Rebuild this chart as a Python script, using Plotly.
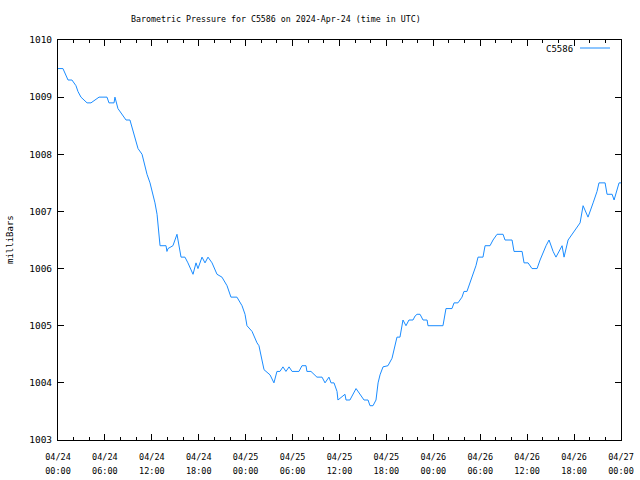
import plotly.graph_objects as go

times = [
    "2024-04-24 00:00", "2024-04-24 00:38", "2024-04-24 01:17", "2024-04-24 01:47",
    "2024-04-24 02:18", "2024-04-24 02:33", "2024-04-24 02:56", "2024-04-24 03:43",
    "2024-04-24 04:13", "2024-04-24 04:44", "2024-04-24 05:15", "2024-04-24 06:16",
    "2024-04-24 06:31", "2024-04-24 07:10", "2024-04-24 07:17", "2024-04-24 07:40",
    "2024-04-24 08:11", "2024-04-24 08:42", "2024-04-24 09:12", "2024-04-24 09:36",
    "2024-04-24 09:51", "2024-04-24 10:14", "2024-04-24 10:45", "2024-04-24 11:00",
    "2024-04-24 11:23", "2024-04-24 11:46", "2024-04-24 12:09", "2024-04-24 12:24",
    "2024-04-24 12:40", "2024-04-24 12:47", "2024-04-24 13:03", "2024-04-24 13:49",
    "2024-04-24 13:56", "2024-04-24 14:04", "2024-04-24 14:42", "2024-04-24 15:13",
    "2024-04-24 15:36", "2024-04-24 15:44", "2024-04-24 16:14", "2024-04-24 16:37",
    "2024-04-24 17:16", "2024-04-24 17:39", "2024-04-24 17:54", "2024-04-24 18:25",
    "2024-04-24 18:48", "2024-04-24 19:11", "2024-04-24 19:42", "2024-04-24 20:20",
    "2024-04-24 20:58", "2024-04-24 21:37", "2024-04-24 22:07", "2024-04-24 22:53",
    "2024-04-24 23:32", "2024-04-24 23:55", "2024-04-25 00:10", "2024-04-25 00:49",
    "2024-04-25 01:27", "2024-04-25 01:42", "2024-04-25 02:05", "2024-04-25 02:21",
    "2024-04-25 03:07", "2024-04-25 03:37", "2024-04-25 04:00", "2024-04-25 04:23",
    "2024-04-25 04:46", "2024-04-25 05:09", "2024-04-25 05:33", "2024-04-25 05:56",
    "2024-04-25 06:49", "2024-04-25 07:12", "2024-04-25 07:43", "2024-04-25 07:50",
    "2024-04-25 08:21", "2024-04-25 09:07", "2024-04-25 09:46", "2024-04-25 10:09",
    "2024-04-25 10:39", "2024-04-25 10:55", "2024-04-25 11:18", "2024-04-25 11:41",
    "2024-04-25 11:48", "2024-04-25 12:19", "2024-04-25 12:42", "2024-04-25 12:50",
    "2024-04-25 13:20", "2024-04-25 14:07", "2024-04-25 14:37", "2024-04-25 15:08",
    "2024-04-25 15:39", "2024-04-25 15:54", "2024-04-25 16:17", "2024-04-25 16:40",
    "2024-04-25 16:56", "2024-04-25 17:11", "2024-04-25 17:34", "2024-04-25 18:12",
    "2024-04-25 18:43", "2024-04-25 18:58", "2024-04-25 19:21", "2024-04-25 19:44",
    "2024-04-25 20:07", "2024-04-25 20:30", "2024-04-25 20:53", "2024-04-25 21:24",
    "2024-04-25 21:40", "2024-04-25 21:55", "2024-04-25 22:18", "2024-04-25 22:41",
    "2024-04-25 23:12", "2024-04-25 23:19", "2024-04-26 01:14", "2024-04-26 01:37",
    "2024-04-26 02:23", "2024-04-26 02:39", "2024-04-26 03:09", "2024-04-26 03:40",
    "2024-04-26 03:55", "2024-04-26 04:18", "2024-04-26 04:41", "2024-04-26 05:04",
    "2024-04-26 05:27", "2024-04-26 05:43", "2024-04-26 06:21", "2024-04-26 06:37",
    "2024-04-26 07:15", "2024-04-26 07:38", "2024-04-26 08:09", "2024-04-26 08:55",
    "2024-04-26 09:10", "2024-04-26 10:04", "2024-04-26 10:19", "2024-04-26 11:21",
    "2024-04-26 11:36", "2024-04-26 12:07", "2024-04-26 12:37", "2024-04-26 13:16",
    "2024-04-26 13:39", "2024-04-26 14:25", "2024-04-26 14:48", "2024-04-26 15:19",
    "2024-04-26 15:41", "2024-04-26 16:28", "2024-04-26 16:43", "2024-04-26 17:14",
    "2024-04-26 17:44", "2024-04-26 18:15", "2024-04-26 18:46", "2024-04-26 19:09",
    "2024-04-26 19:25", "2024-04-26 19:47", "2024-04-26 20:26", "2024-04-26 20:56",
    "2024-04-26 21:11", "2024-04-26 21:58", "2024-04-26 22:13", "2024-04-26 22:52",
    "2024-04-26 23:07", "2024-04-26 23:45", "2024-04-27 00:00",
]

pressure = [
    1009.5, 1009.5, 1009.3, 1009.3,
    1009.2, 1009.1, 1009.0, 1008.9,
    1008.9, 1008.95, 1009.0, 1009.0,
    1008.9, 1008.9, 1009.0, 1008.8,
    1008.7, 1008.6, 1008.6, 1008.4,
    1008.25, 1008.1, 1008.0, 1007.85,
    1007.65, 1007.5, 1007.3, 1007.15,
    1006.95, 1006.75, 1006.4, 1006.4,
    1006.3, 1006.35, 1006.4, 1006.6,
    1006.35, 1006.2, 1006.2, 1006.1,
    1005.9, 1006.1, 1006.0, 1006.2,
    1006.1, 1006.2, 1006.1, 1005.9,
    1005.85, 1005.7, 1005.5, 1005.5,
    1005.35, 1005.2, 1005.0, 1004.9,
    1004.7, 1004.65, 1004.4, 1004.23,
    1004.14, 1004.0, 1004.2, 1004.2,
    1004.28, 1004.2, 1004.28, 1004.2,
    1004.2, 1004.3, 1004.3, 1004.2,
    1004.2, 1004.1, 1004.1, 1004.0,
    1004.1, 1004.0, 1004.0, 1003.85,
    1003.7, 1003.75, 1003.8, 1003.7,
    1003.7, 1003.9, 1003.8, 1003.7,
    1003.7, 1003.6, 1003.6, 1003.7,
    1004.0, 1004.14, 1004.28, 1004.3,
    1004.43, 1004.6, 1004.8, 1004.8,
    1005.1, 1005.0, 1005.1, 1005.1,
    1005.17, 1005.2, 1005.2, 1005.1,
    1005.1, 1005.0, 1005.0, 1005.3,
    1005.3, 1005.4, 1005.4, 1005.5,
    1005.6, 1005.6, 1005.75, 1005.9,
    1006.05, 1006.2, 1006.2, 1006.4,
    1006.4, 1006.5, 1006.6, 1006.6,
    1006.5, 1006.5, 1006.3, 1006.3,
    1006.1, 1006.1, 1006.0, 1006.0,
    1006.15, 1006.4, 1006.5, 1006.3,
    1006.2, 1006.4, 1006.2, 1006.5,
    1006.6, 1006.7, 1006.8, 1007.1,
    1007.0, 1006.9, 1007.15, 1007.35,
    1007.5, 1007.5, 1007.3, 1007.3,
    1007.2, 1007.5, 1007.5,
]

series_name = "C5586"
title_text = "Barometric Pressure for C5586 on 2024-Apr-24 (time in UTC)"
y_label = "milliBars"
line_color = "#1a8cff"
FONT = "DejaVu Sans Mono"
x_range = ["2024-04-24 00:00", "2024-04-27 00:00"]
SIX_H = 6 * 3600 * 1000
TWO_H = 2 * 3600 * 1000

fig = go.Figure()
fig.add_trace(go.Scatter(x=times, y=pressure, mode="lines", name=series_name,
                         line=dict(color=line_color, width=1), showlegend=False))
# invisible copy on the second x axis (carries the hour-of-day tick labels)
fig.add_trace(go.Scatter(x=times, y=pressure, mode="lines", xaxis="x2",
                         line=dict(color="rgba(0,0,0,0)", width=1),
                         showlegend=False, hoverinfo="skip"))

fig.update_layout(
    width=640, height=480, autosize=False,
    margin=dict(l=58, r=19, t=40, b=40),
    plot_bgcolor="white", paper_bgcolor="white",
    font=dict(family=FONT, size=9, color="black"),
    xaxis=dict(
        type="date", range=x_range, dtick=SIX_H, tick0=x_range[0], tickformat="%m/%d",
        showline=True, linecolor="black", linewidth=1, mirror="ticks",
        ticks="inside", ticklen=6, tickcolor="black", showgrid=False, zeroline=False,
        ticklabelstandoff=9, automargin=False,
        tickfont=dict(family=FONT, size=8.5, color="black"),
        minor=dict(dtick=TWO_H, ticks="inside", ticklen=3, tickcolor="black", showgrid=False),
    ),
    xaxis2=dict(
        type="date", range=x_range, dtick=SIX_H, tick0=x_range[0], tickformat="%H:%M",
        overlaying="x", side="bottom", anchor="y", matches="x",
        showline=False, ticks="", showgrid=False, zeroline=False,
        ticklabelstandoff=24, automargin=False,
        tickfont=dict(family=FONT, size=8.5, color="black"),
    ),
    yaxis=dict(
        range=[1003, 1010], dtick=1,
        showline=True, linecolor="black", linewidth=1, mirror="ticks",
        ticks="inside", ticklen=6, tickcolor="black", showgrid=False, zeroline=False,
        ticklabelstandoff=3, automargin=False,
        tickfont=dict(family=FONT, size=9.5, color="black"),
    ),
    annotations=[
        dict(text=title_text, xref="paper", yref="paper", x=(276 - 58) / 563, y=1 + 21 / 400,
             xanchor="center", yanchor="middle", showarrow=False,
             font=dict(family=FONT, size=8.3, color="black")),
        dict(text=y_label, xref="paper", yref="paper", x=-(58 - 10) / 563, y=0.5,
             xanchor="center", yanchor="middle", textangle=-90, showarrow=False,
             font=dict(family=FONT, size=9, color="black")),
        dict(text=series_name, xref="paper", yref="paper", x=(575 - 58) / 563, y=1 - 9 / 400,
             xanchor="right", yanchor="middle", showarrow=False,
             font=dict(family=FONT, size=9, color="black")),
    ],
    shapes=[
        dict(type="line", xref="paper", yref="paper",
             x0=(580 - 58) / 563, x1=(610 - 58) / 563, y0=1 - 8 / 400, y1=1 - 8 / 400,
             line=dict(color=line_color, width=1)),
    ],
)

fig.write_html("out.html")
